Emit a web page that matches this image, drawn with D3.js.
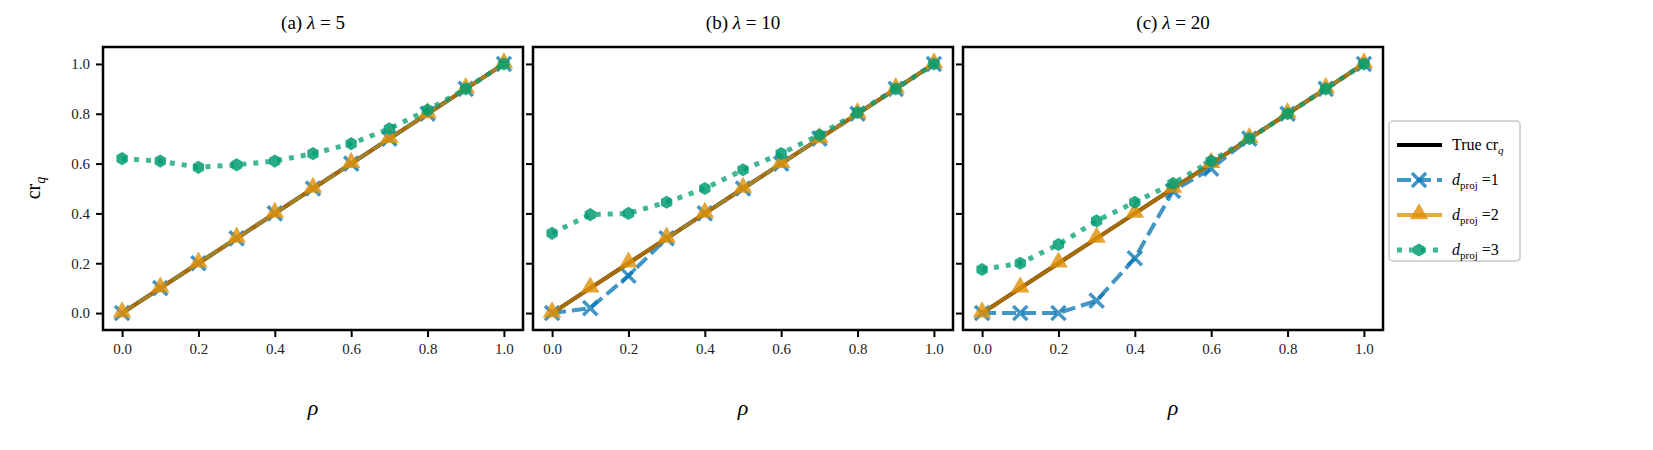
<!DOCTYPE html><html><head><meta charset="utf-8"><script src="https://d3js.org/d3.v7.min.js"></script>
<style>body{margin:0;background:#fff}text{font-family:"Liberation Serif",serif}</style></head><body><svg width="1653" height="450"></svg>
<script>
const rho=[0,.1,.2,.3,.4,.5,.6,.7,.8,.9,1];
const titles=["5","10","20"];
const trueCr=rho.slice();
const dp1=[[0,.1,.2,.3,.4,.5,.6,.7,.8,.9,1],[0,.02,.15,.3,.4,.5,.6,.7,.8,.9,1],[0,0,0,.05,.22,.49,.58,.7,.8,.9,1]];
const dp2=[[0,.1,.2,.3,.4,.5,.6,.7,.8,.9,1],[0,.1,.2,.3,.4,.5,.6,.7,.8,.9,1],[0,.1,.2,.3,.4,.5,.6,.7,.8,.9,1]];
const dp3=[[.62,.61,.585,.595,.61,.64,.68,.74,.815,.9,1],[.32,.395,.40,.445,.50,.575,.64,.715,.805,.9,1],[.175,.20,.275,.37,.445,.52,.61,.70,.8,.9,1]];
const ticks=[0,.2,.4,.6,.8,1];
const C={b:"#0173b2",o:"#de8f05",g:"#029e73"};
const svg=d3.select("svg");
const lefts=[103,533,963],W=420,pTop=47,bot=330;
const y=d3.scaleLinear().domain([-0.068,1.068]).range([bot,pTop]);
const hex=d3.symbol().type({draw(c,s){const r=Math.sqrt(s)/1.6;for(let i=0;i<6;i++){const a=Math.PI/6+i*Math.PI/3;i?c.lineTo(r*Math.cos(a),r*Math.sin(a)):c.moveTo(r*Math.cos(a),r*Math.sin(a));}c.closePath();}}).size(110);
const tri=d3.symbol().type(d3.symbolTriangle).size(150);
const cross=d3.symbol().type({draw(c,s){const r=Math.sqrt(s)/2;c.moveTo(-r,-r);c.lineTo(r,r);c.moveTo(-r,r);c.lineTo(r,-r);}}).size(200);
lefts.forEach((L,k)=>{
 const x=d3.scaleLinear().domain([-0.05,1.05]).range([L,L+W]);
 const g=svg.append("g");
 g.append("g").attr("transform",`translate(0,${bot})`).call(d3.axisBottom(x).tickValues(ticks).tickFormat(d3.format(".1f")).tickSize(7).tickPadding(6)).call(a=>{a.select(".domain").remove();a.selectAll("line").attr("stroke-width",2);a.selectAll("text").attr("font-size",15).attr("fill","#222");});
 g.append("g").attr("transform",`translate(${L},0)`).call(d3.axisLeft(y).tickValues(ticks).tickFormat(k?"":d3.format(".1f")).tickSize(7).tickPadding(6)).call(a=>{a.select(".domain").remove();a.selectAll("line").attr("stroke-width",2);a.selectAll("text").attr("font-size",15).attr("fill","#222");});
 const line=d3.line().x((d,i)=>x(rho[i])).y(d=>y(d));
 g.append("path").attr("d",line(trueCr)).attr("stroke","#000").attr("stroke-width",4).attr("fill","none");
 g.append("path").attr("d",line(dp1[k])).attr("stroke",C.b).attr("stroke-width",4).attr("stroke-dasharray","14,6").attr("fill","none").attr("opacity",.75);
 dp1[k].forEach((v,i)=>g.append("path").attr("d",cross()).attr("transform",`translate(${x(rho[i])},${y(v)})`).attr("stroke",C.b).attr("stroke-width",3.5).attr("fill","none").attr("opacity",.75));
 g.append("path").attr("d",line(dp2[k])).attr("stroke",C.o).attr("stroke-width",4).attr("fill","none").attr("opacity",.75);
 dp2[k].forEach((v,i)=>g.append("path").attr("d",tri()).attr("transform",`translate(${x(rho[i])},${y(v)-1})`).attr("fill",C.o).attr("opacity",.8));
 g.append("path").attr("d",line(dp3[k])).attr("stroke",C.g).attr("stroke-width",5).attr("stroke-dasharray","5,7").attr("fill","none").attr("opacity",.75);
 dp3[k].forEach((v,i)=>g.append("path").attr("d",hex()).attr("transform",`translate(${x(rho[i])},${y(v)})`).attr("fill",C.g).attr("opacity",.85));
 g.append("rect").attr("x",L).attr("y",pTop).attr("width",W).attr("height",bot-pTop).attr("fill","none").attr("stroke","#000").attr("stroke-width",2.5);
 const t=g.append("text").attr("x",L+W/2).attr("y",29).attr("text-anchor","middle").attr("font-size",19);
 t.append("tspan").text(`(${"abc"[k]}) `);t.append("tspan").attr("font-style","italic").text("λ");t.append("tspan").text(` = ${titles[k]}`);
 g.append("text").attr("x",L+W/2).attr("y",415).attr("text-anchor","middle").attr("font-size",22).attr("font-style","italic").text("ρ");
});
const yl=svg.append("text").attr("transform","translate(40,188) rotate(-90)").attr("text-anchor","middle").attr("font-size",20);
yl.append("tspan").text("cr");yl.append("tspan").attr("font-style","italic").attr("font-size",14).attr("dy",5).text("q");
const lg=svg.append("g");
lg.append("rect").attr("x",1389).attr("y",121).attr("width",131).attr("height",140).attr("rx",4).attr("fill","#fff").attr("stroke","#d5d5d5").attr("stroke-width",2);
const items=[{c:"#000",k:"t"},{c:C.b,k:"b",eq:" =1"},{c:C.o,k:"o",eq:" =2"},{c:C.g,k:"g",eq:" =3"}];
items.forEach((it,i)=>{
 const yy=145+i*35,x0=1397,x1=1442,xm=1419;
 const ln=lg.append("line").attr("x1",x0).attr("x2",x1).attr("y1",yy).attr("y2",yy).attr("stroke",it.c).attr("stroke-width",it.k=="g"?5:4);
 if(it.k=="b"){ln.attr("stroke-dasharray","14,6").attr("opacity",.75);lg.append("path").attr("d",cross()).attr("transform",`translate(${xm},${yy})`).attr("stroke",C.b).attr("stroke-width",3.5).attr("fill","none").attr("opacity",.75);}
 if(it.k=="o"){ln.attr("opacity",.75);lg.append("path").attr("d",tri()).attr("transform",`translate(${xm},${yy-1})`).attr("fill",C.o).attr("opacity",.8);}
 if(it.k=="g"){ln.attr("stroke-dasharray","5,7").attr("opacity",.75);lg.append("path").attr("d",hex()).attr("transform",`translate(${xm},${yy})`).attr("fill",C.g).attr("opacity",.85);}
 const t=lg.append("text").attr("x",1452).attr("y",yy+5).attr("font-size",16);
 if(it.k=="t"){t.append("tspan").text("True cr");t.append("tspan").attr("font-style","italic").attr("font-size",11).attr("dy",4).text("q");}
 else{t.append("tspan").attr("font-style","italic").text("d");t.append("tspan").attr("font-size",11).attr("dy",4).text("proj");t.append("tspan").attr("dy",-4).text(it.eq);}
});
</script></body></html>
